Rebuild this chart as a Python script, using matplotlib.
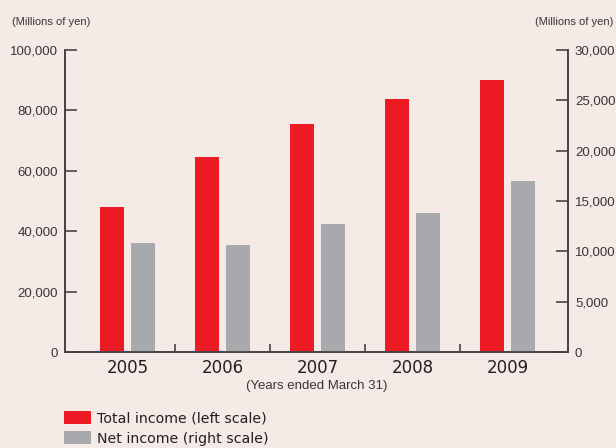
import matplotlib.pyplot as plt
from matplotlib.ticker import FuncFormatter, FixedLocator
import numpy as np

years = ['2005', '2006', '2007', '2008', '2009']
total_income = [48000, 64600, 75500, 83800, 90000]   # left scale
net_income = [10800, 10600, 12700, 13800, 17000]     # right scale

bg = '#f5eae5'
red = '#ed1c24'
gray = '#a7a9ac'
axis_col = '#4a4446'
narrow = ['Liberation Sans', 'DejaVu Sans']

fig = plt.figure(figsize=(6.16, 4.48), dpi=100, facecolor=bg)
ax = fig.add_axes([65/616, 1-352/448, (568-65)/616, (352-50)/448])
ax.set_facecolor(bg)
ax2 = ax.twinx()

x = np.arange(len(years))
w = 0.253
off = 0.163
b1 = ax.bar(x - off, total_income, w, color=red, label='Total income (left scale)')
b2 = ax2.bar(x + off, net_income, w, color=gray, label='Net income (right scale)')

ax.set_xlim(-0.658, 4.637)
ax.set_ylim(0, 100000)
ax2.set_ylim(0, 30000)
ax.set_yticks(range(0, 100001, 20000))
ax2.set_yticks(range(0, 30001, 5000))
fmt = FuncFormatter(lambda v, p: f'{int(v):,}')
ax.yaxis.set_major_formatter(fmt)
ax2.yaxis.set_major_formatter(fmt)

for a in (ax, ax2):
    a.spines['top'].set_visible(False)
    for s in ('left', 'right', 'bottom'):
        a.spines[s].set_color(axis_col)
        a.spines[s].set_linewidth(1.3)

for a in (ax, ax2):
    a.tick_params(axis='y', direction='in', length=8.5, width=1.2, color=axis_col,
                  labelsize=9.5, labelcolor='#3a3436', pad=5)
for lbl in ax.get_yticklabels() + ax2.get_yticklabels():
    lbl.set_family(narrow)

# year labels at centres, small ticks between the groups
ax.set_xticks(x)
ax.set_xticklabels(years, fontsize=12, color='#231f20')
ax.tick_params(axis='x', which='major', length=0, pad=5)
ax.xaxis.set_minor_locator(FixedLocator([0.5, 1.5, 2.5, 3.5]))
ax.tick_params(axis='x', which='minor', direction='in', length=5.5, width=1.2, color=axis_col)

fig.text(317/616, 1-386/448, '(Years ended March 31)', ha='center', va='center',
         fontsize=9.5, color='#3a3436', family=narrow)
fig.text(12/616, 1-22/448, '(Millions of yen)', ha='left', va='center',
         fontsize=8, color='#3a3436', family=narrow)
fig.text(613/616, 1-22/448, '(Millions of yen)', ha='right', va='center',
         fontsize=8, color='#3a3436', family=narrow)

fig.legend(handles=[b1, b2], loc='upper left', bbox_to_anchor=(64/616, 1-411/448),
           frameon=False, fontsize=10.2, handlelength=1.9, handleheight=1.05,
           handletextpad=0.45, labelspacing=0.42, borderpad=0, borderaxespad=0,
           labelcolor='#231f20')

fig.savefig('out.png', dpi=100, facecolor=bg)
